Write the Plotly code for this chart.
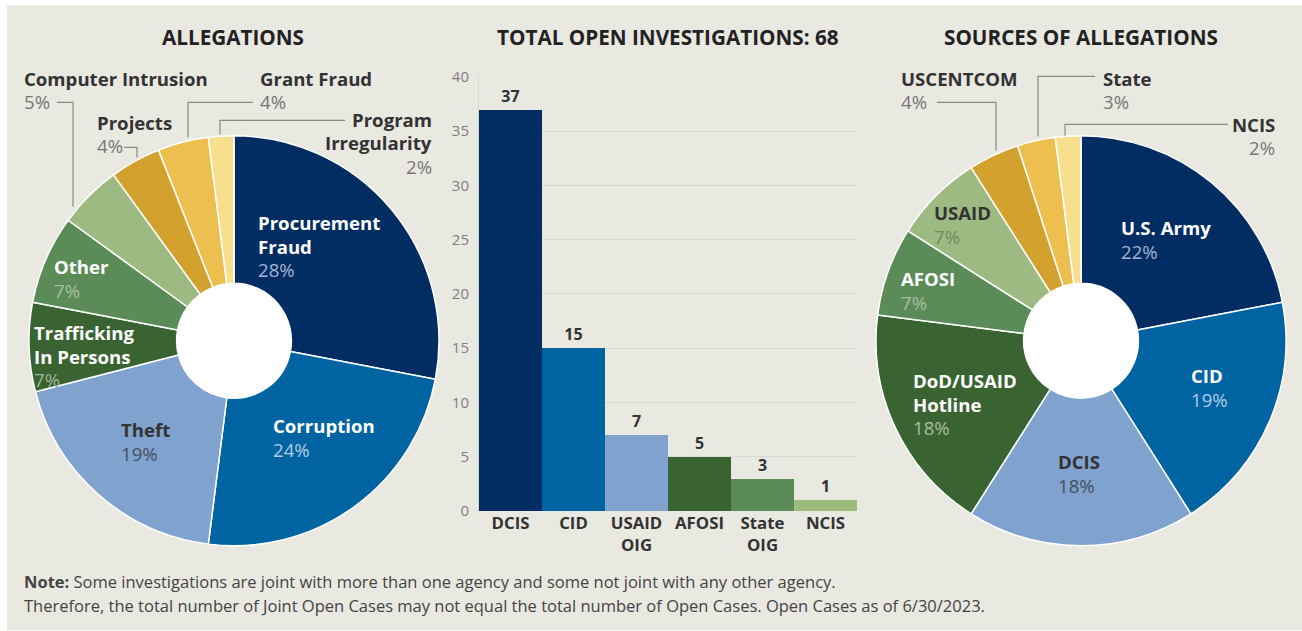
import plotly.graph_objects as go

# ---------------- data ----------------
alleg_labels = ["Procurement Fraud", "Corruption", "Theft", "Trafficking In Persons", "Other",
                "Computer Intrusion", "Projects", "Grant Fraud", "Program Irregularity"]
alleg_values = [28, 24, 19, 7, 7, 5, 4, 4, 2]

bar_cats = ["DCIS", "CID", "USAID OIG", "AFOSI", "State OIG", "NCIS"]
bar_values = [37, 15, 7, 5, 3, 1]

src_labels = ["U.S. Army", "CID", "DCIS", "DoD/USAID Hotline", "AFOSI", "USAID",
              "USCENTCOM", "State", "NCIS"]
src_values = [22, 19, 18, 18, 7, 7, 4, 3, 2]

y_ticks = [0, 5, 10, 15, 20, 25, 30, 35, 40]

titles = ["ALLEGATIONS", "TOTAL OPEN INVESTIGATIONS: 68", "SOURCES OF ALLEGATIONS"]
note_1 = "Some investigations are joint with more than one agency and some not joint with any other agency."
note_2 = ("Therefore, the total number of Joint Open Cases may not equal the total number of Open Cases. "
          "Open Cases as of 6/30/2023.")

# ---------------- styles ----------------
W, H = 1302, 631
TOP, HR = 10.8, 610.0      # observed vertical placement of the rendered figure
FONT = "Open Sans"
BG = "#e9e8e1"
NAVY, BLUE, LBLUE = "#022d63", "#0064a3", "#7fa2ce"
DGREEN, MGREEN, LGREEN = "#3a6332", "#5b8b57", "#9dba83"
DGOLD, GOLD, PALE = "#d3a12e", "#ecbf4f", "#f8df8e"
pie_colors = [NAVY, BLUE, LBLUE, DGREEN, MGREEN, LGREEN, DGOLD, GOLD, PALE]
bar_colors = [NAVY, BLUE, LBLUE, DGREEN, MGREEN, "#9dbb7c"]
LBL = 18.6
TITLE = 20.7


def X(p):
    return p / W


def Y(p):
    return 1 - (p - TOP) / HR


fig = go.Figure()

L_C, L_R = (234, 340), 205
R_C, R_R = (1081, 340), 205
HOLE = 0.28

for labels, values, (cx, cy), r in [(alleg_labels, alleg_values, L_C, L_R),
                                     (src_labels, src_values, R_C, R_R)]:
    fig.add_trace(go.Pie(
        labels=labels, values=values, sort=False, direction="clockwise", rotation=0,
        hole=HOLE, textinfo="none", showlegend=False,
        marker=dict(colors=pie_colors, line=dict(color="white", width=1.5)),
        domain=dict(x=[X(cx - r), X(cx + r)], y=[Y(cy + r), Y(cy - r)]),
        hovertemplate="%{label}: %{value}%<extra></extra>",
    ))

fig.add_trace(go.Bar(
    x=bar_cats, y=bar_values, marker=dict(color=bar_colors, line=dict(width=0)),
    text=bar_values, texttemplate="<b>%{text}</b>", textposition="outside",
    textfont=dict(family=FONT, size=16, color="#333333"), cliponaxis=False,
    showlegend=False, hovertemplate="%{x}: %{y}<extra></extra>",
))

fig.update_layout(
    width=W, height=H, autosize=False, margin=dict(l=0, r=0, t=0, b=0),
    paper_bgcolor="white", plot_bgcolor="rgba(0,0,0,0)",
    font=dict(family=FONT, color="#333333"),
    bargap=0, uniformtext=dict(minsize=16, mode="show"),
    xaxis=dict(domain=[X(479), X(857)], tickmode="array", tickvals=bar_cats,
               ticktext=["<b>" + c.replace(" ", "<br>") + "</b>" for c in bar_cats],
               tickfont=dict(family=FONT, size=16.8, color="#333333"),
               showgrid=False, showline=False, ticks="", zeroline=False, fixedrange=True),
    yaxis=dict(domain=[Y(510), Y(76.5)], range=[0, 40], tickvals=y_ticks,
               tickfont=dict(family=FONT, size=15, color="#808080"),
               showgrid=True, gridcolor="#d7d6cf", gridwidth=1, zeroline=False,
               showline=True, linecolor="#d7d6cf", linewidth=1, ticks="",
               ticklabelstandoff=6, fixedrange=True),
)

shapes = [
    dict(type="rect", xref="paper", yref="paper", x0=X(7), x1=1, y0=Y(629), y1=Y(5),
         fillcolor=BG, line=dict(width=0), layer="below"),
]
for (cx, cy), r in [(L_C, L_R), (R_C, R_R)]:
    hr = r * HOLE
    shapes.append(dict(type="circle", xref="paper", yref="paper",
                       x0=X(cx - hr), x1=X(cx + hr), y0=Y(cy + hr), y1=Y(cy - hr),
                       fillcolor="white", line=dict(width=0), layer="below"))

leaders = [
    [(57, 102), (73, 102), (73, 206)],        # Computer Intrusion
    [(124, 147), (137, 147), (137, 157)],     # Projects
    [(253, 102), (188, 102), (188, 137)],     # Grant Fraud
    [(345, 120), (220, 120), (220, 134)],     # Program Irregularity
    [(937, 102), (996, 102), (996, 150)],     # USCENTCOM
    [(1095, 76), (1038, 76), (1038, 136)],    # State
    [(1228, 124), (1065, 124), (1065, 135)],  # NCIS
]
for pts in leaders:
    path = "M " + " L ".join(f"{X(px):.5f},{Y(py):.5f}" for px, py in pts)
    shapes.append(dict(type="path", xref="paper", yref="paper", path=path,
                       line=dict(color="#8a8a86", width=1.2), layer="above"))
fig.update_layout(shapes=shapes)

ann = []


def txt(x, y, text, anchor="left", color="#333333", size=LBL, bold=False):
    ann.append(dict(xref="paper", yref="paper", x=X(x), y=Y(y), xanchor=anchor, yanchor="middle",
                    text=("<b>" + text + "</b>") if bold else text, showarrow=False,
                    font=dict(family=FONT, size=size, color=color)))


def label(x, y, name_lines, value, anchor, name_color, pct_color, pitch=23.5):
    for i, line in enumerate(name_lines):
        txt(x, y + i * pitch, line, anchor, name_color, bold=True)
    txt(x, y + len(name_lines) * pitch, f"{value}%", anchor, pct_color)


for t, cx in zip(titles, [233, 668, 1081]):
    txt(cx, 37, t, "center", "#222222", size=TITLE, bold=True)

A = dict(zip(alleg_labels, alleg_values))
label(256, 222, ["Procurement", "Fraud"], A["Procurement Fraud"], "left", "white", "#a5b3d3")
label(271, 425, ["Corruption"], A["Corruption"], "left", "white", "#b3cbe6")
label(119, 429, ["Theft"], A["Theft"], "left", "#333333", "#45505f")
label(32, 332, ["Trafficking", "In Persons"], A["Trafficking In Persons"], "left", "white", "#9fb597")
label(52, 266, ["Other"], A["Other"], "left", "white", "#a9c1a2")
label(22, 78, ["Computer Intrusion"], A["Computer Intrusion"], "left", "#333333", "#777777")
label(95, 122, ["Projects"], A["Projects"], "left", "#333333", "#777777")
label(258, 78, ["Grant Fraud"], A["Grant Fraud"], "left", "#333333", "#777777")
label(434, 119, ["Program", "Irregularity"], A["Program Irregularity"], "right", "#333333", "#777777")

S = dict(zip(src_labels, src_values))
label(1119, 227, ["U.S. Army"], S["U.S. Army"], "left", "white", "#a5b3d3")
label(1189, 375, ["CID"], S["CID"], "left", "white", "#b3cbe6")
label(1056, 461, ["DCIS"], S["DCIS"], "left", "#333333", "#45505f")
label(911, 380, ["DoD/USAID", "Hotline"], S["DoD/USAID Hotline"], "left", "white", "#a7bb9f")
label(899, 278, ["AFOSI"], S["AFOSI"], "left", "white", "#a9c1a2")
label(932, 212, ["USAID"], S["USAID"], "left", "#333333", "#6f8a5f")
label(899, 78, ["USCENTCOM"], S["USCENTCOM"], "left", "#333333", "#777777")
label(1101, 78, ["State"], S["State"], "left", "#333333", "#777777")
label(1277, 124, ["NCIS"], S["NCIS"], "right", "#333333", "#777777")

txt(22, 580, "<b>Note:</b> " + note_1, "left", "#444444", size=16.5)
txt(22, 604, note_2, "left", "#444444", size=16.5)

fig.update_layout(annotations=ann)
fig.write_html("out.html", config={"displayModeBar": False, "responsive": False},
               post_script="document.body.style.margin='0px';")
